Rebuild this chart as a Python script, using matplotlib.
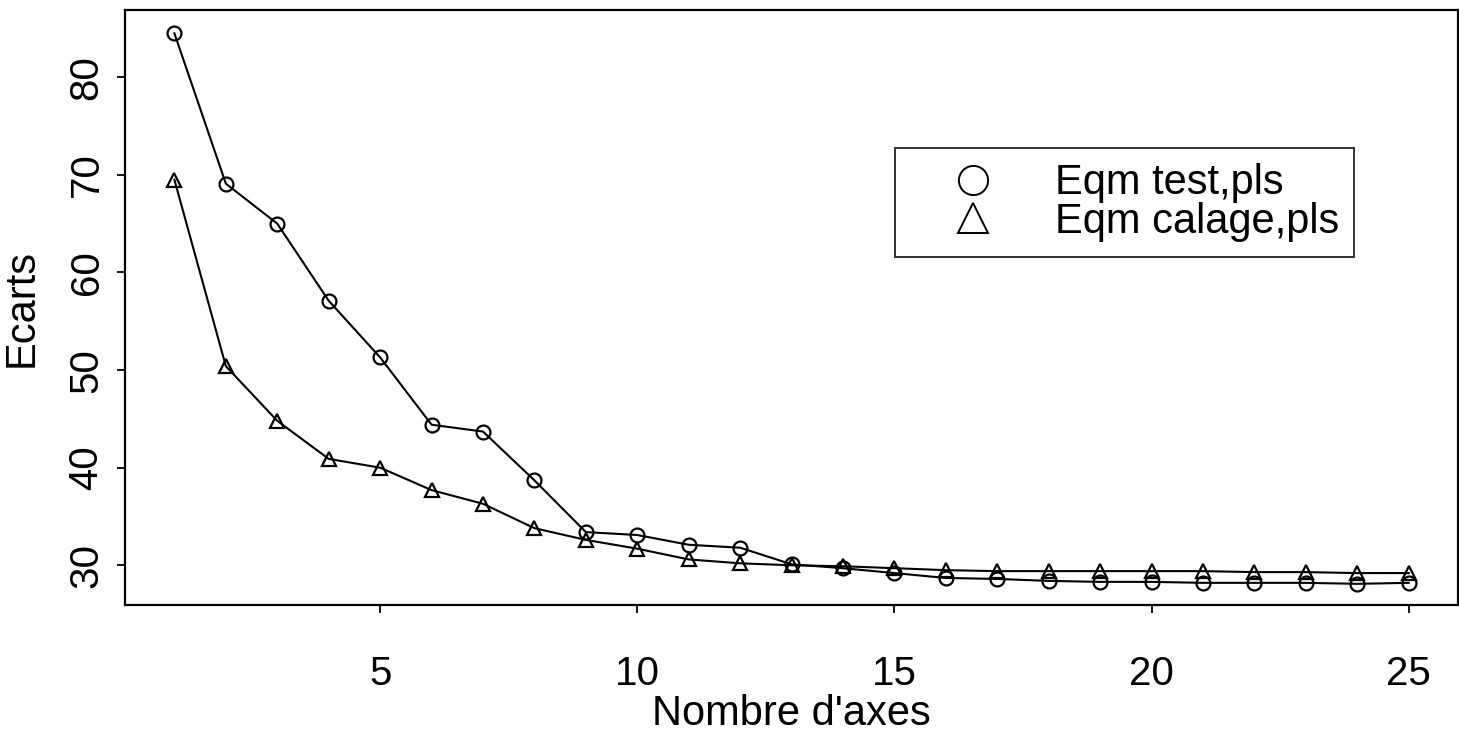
import numpy as np
import matplotlib
matplotlib.use('Agg')
import matplotlib.pyplot as plt

plt.rcParams['font.family'] = ['Liberation Sans', 'DejaVu Sans']

axes_n = list(range(1, 26))
eqm_test = [84.5, 69.1, 65.0, 57.1, 51.3, 44.4, 43.7, 38.7, 33.4, 33.1,
            32.1, 31.8, 30.1, 29.7, 29.2, 28.7, 28.6, 28.4, 28.3, 28.3,
            28.2, 28.2, 28.2, 28.1, 28.2]
eqm_calage = [69.5, 50.4, 44.8, 40.9, 40.0, 37.7, 36.3, 33.8, 32.6, 31.7,
              30.6, 30.2, 30.0, 29.9, 29.7, 29.5, 29.4, 29.4, 29.4, 29.4,
              29.4, 29.3, 29.3, 29.2, 29.2]
xticks = [5, 10, 15, 20, 25]
yticks = [30, 40, 50, 60, 70, 80]

fig = plt.figure(figsize=(14.59, 7.35), dpi=100)
ax = fig.add_axes([0.0857, 0.177, 0.9137, 0.809])

ax.plot(axes_n, eqm_test, color='black', lw=1.5, marker='o', ms=10,
        mfc='none', mew=1.6, label='Eqm test,pls')
ax.plot(axes_n, eqm_calage, color='black', lw=1.5, marker='^', ms=10,
        mfc='none', mew=1.6, label='Eqm calage,pls')

ax.set_xlim(0.04, 25.96)
ax.set_ylim(25.94, 86.86)
ax.set_xticks(xticks)
ax.set_yticks(yticks)
ax.tick_params(direction='out', length=6, width=1.3, labelsize=29)
ax.tick_params(axis='x', pad=30)
ax.tick_params(axis='y', pad=8)
for lab in ax.get_yticklabels():
    lab.set_rotation(90)
    lab.set_va('center')
for s in ax.spines.values():
    s.set_linewidth(1.6)

ax.set_xlabel("Nombre d'axes", fontsize=30, labelpad=1)
ax.set_ylabel('Ecarts', fontsize=30, labelpad=19)

leg = ax.legend(loc='upper left', bbox_to_anchor=(0.5774, 0.768), fontsize=30,
                frameon=True, fancybox=False, edgecolor='black',
                handlelength=3.05, handletextpad=0.44, borderpad=0.36,
                labelspacing=-0.03, borderaxespad=0, markerscale=2.1)
for h in leg.get_lines():
    h.set_linestyle('none')
    h.set_markeredgewidth(1.4)
leg.get_frame().set_linewidth(1.4)

fig.savefig('out.png', dpi=100)
